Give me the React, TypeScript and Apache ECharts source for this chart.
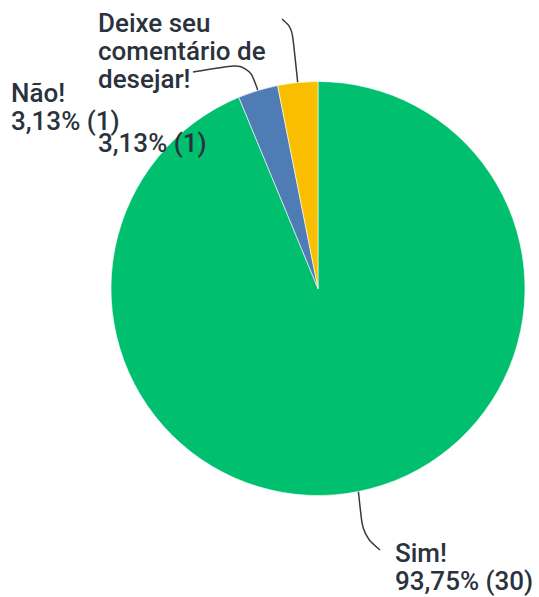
import React, { useEffect, useRef } from "react";
import * as echarts from "echarts";

const categories = ["Sim!", "Não!", "Deixe seu\ncomentário de\ndesejar!"];
const counts = [30, 1, 1];
const percentLabels = ["93,75%", "3,13%", "3,13%"];
const colors = ["#00BF6F", "#507CB6", "#F9BE00"];

// label anchors (top-left) and leader line end points, per slice
const labelAnchors = [
  [395, 539],
  [11, 79],
  [98, 9],
];
const lineBends = [
  [[363, 535], [380, 550]],
  [[248, 63], [193, 72]],
  [[292, 28], [282, 19]],
];

export default function App() {
  const ref = useRef<HTMLDivElement>(null);
  useEffect(() => {
    if (!ref.current) return;
    const chart = echarts.init(ref.current, undefined, { renderer: "svg" });
    const data = categories.map((c, i) => ({
      name: c,
      value: counts[i],
      itemStyle: { color: colors[i] },
    }));
    chart.setOption({
      animation: false,
      series: [
        {
          type: "pie",
          center: [318, 288.5],
          radius: [0, 207],
          startAngle: 90,
          clockwise: true,
          data,
          itemStyle: { borderColor: "#ffffff", borderWidth: 0.6 },
          label: {
            show: true,
            position: "outer",
            color: "#2a333d",
            fontFamily: "Roboto",
            fontSize: 26,
            fontWeight: 500,
            lineHeight: 28,
            overflow: "none",
            width: 300,
            formatter: (p: any) => {
              const i = p.dataIndex;
              const pct = `${percentLabels[i]} (${counts[i]})`;
              if (i === 2) return `${p.name}\n{p|${pct}}`;
              return `${p.name}\n${pct}`;
            },
            rich: {
              p: {
                color: "#2a333d",
                fontFamily: "Roboto",
                fontSize: 26,
                fontWeight: 500,
                lineHeight: 100,
              },
            },
          },
          labelLine: {
            show: true,
            smooth: 0.35,
            lineStyle: { color: "#3a3a3a", width: 1.5 },
          },
          labelLayout: (params: any) => {
            const i = params.dataIndex;
            const start = params.labelLinePoints
              ? params.labelLinePoints[0]
              : [0, 0];
            return {
              x: labelAnchors[i][0],
              y: labelAnchors[i][1],
              align: "left",
              verticalAlign: "top",
              labelLinePoints: [start, lineBends[i][0], lineBends[i][1]],
            };
          },
        },
      ],
    });
    return () => chart.dispose();
  }, []);
  return (
    <div
      ref={ref}
      style={{ position: "fixed", left: 0, top: 0, width: 539, height: 597, background: "#fff" }}
    />
  );
}
